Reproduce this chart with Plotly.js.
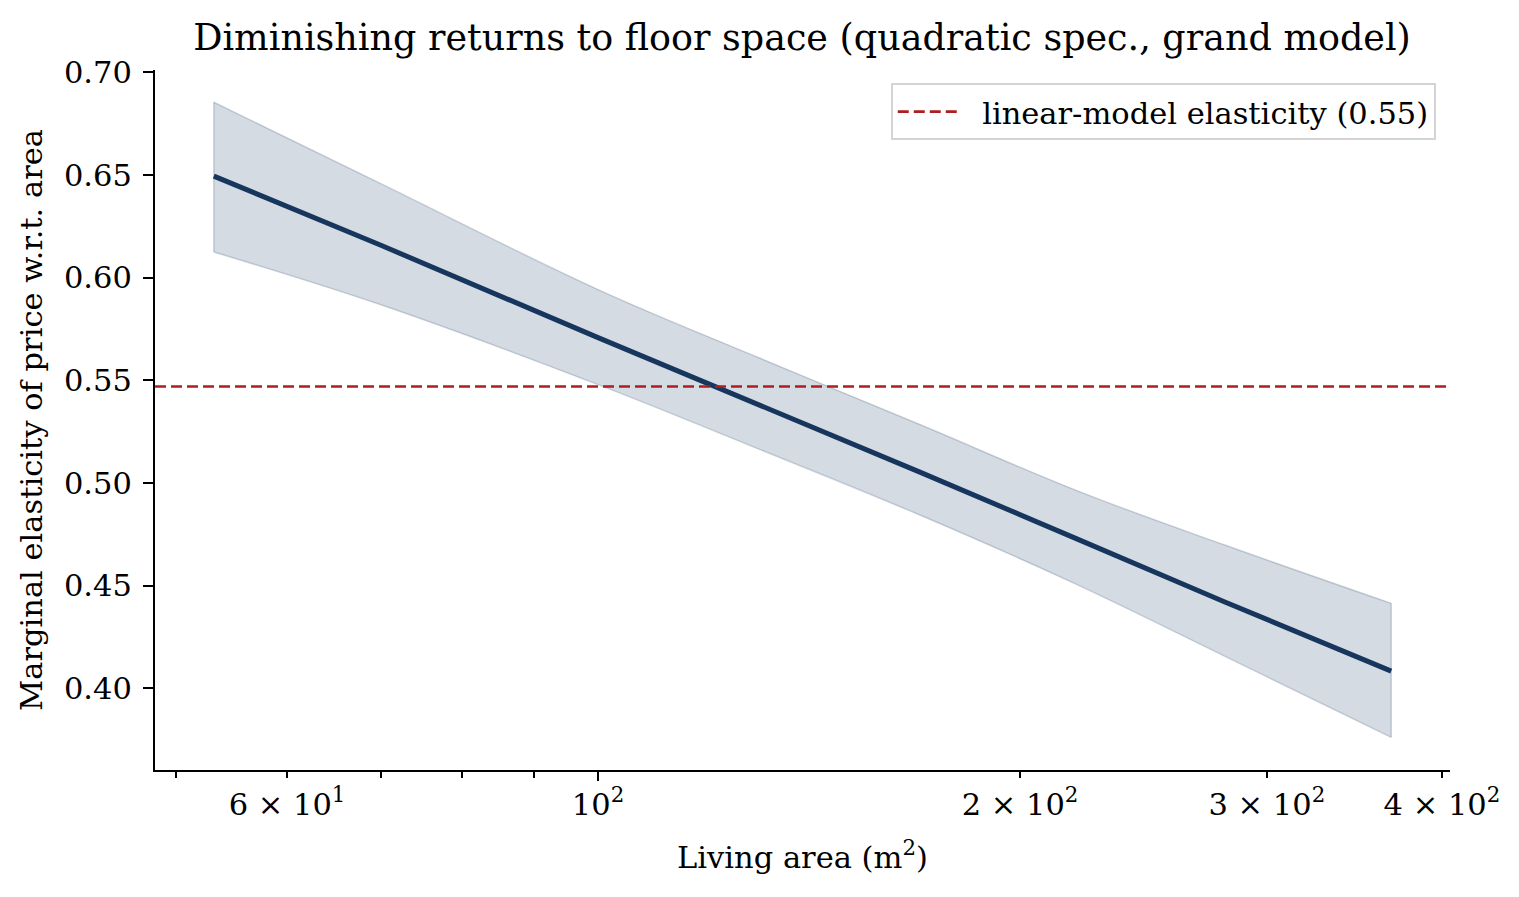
<!DOCTYPE html>
<html>
<head>
<meta charset="utf-8">
<script src="https://cdn.plot.ly/plotly-3.0.1.min.js"></script>
<style>
  html, body { margin: 0; padding: 0; background: #fff; }
  #chart { width: 1519px; height: 897px; }
</style>
</head>
<body>
<div id="chart"></div>
<script>
// living area grid (m2) and marginal elasticity
var areaM2 = [53.2, 70, 100, 130, 170, 220, 280, 368];
var elasticity = [0.6495, 0.6158, 0.5708, 0.5385, 0.5050, 0.4725, 0.4420, 0.4083];
var ciUpper = [0.6855, 0.6458, 0.5942, 0.5612, 0.5282, 0.4960, 0.4697, 0.4413];
var ciLower = [0.6125, 0.5868, 0.5479, 0.5167, 0.4841, 0.4502, 0.4155, 0.3760];
var linearElasticity = 0.547;

var xTickVals = [60, 100, 200, 300, 400];
var xTickText = ['6 × 10<sup>1</sup>', '10<sup>2</sup>', '2 × 10<sup>2</sup>', '3 × 10<sup>2</sup>', '4 × 10<sup>2</sup>'];
var xMinorVals = [50, 70, 80, 90];
var yTickVals = [0.40, 0.45, 0.50, 0.55, 0.60, 0.65, 0.70];

var navy = 'rgb(23, 54, 93)';
var red = 'rgb(175, 30, 30)';
var serif = 'DejaVu Serif, Liberation Serif, serif';
var fs = 30.5;

// confidence band: upper edge, then lower edge filled up to it
var bandUpper = {
  x: areaM2,
  y: ciUpper,
  type: 'scatter',
  mode: 'lines',
  line: {color: 'rgba(23, 54, 93, 0.2)', width: 1.5, shape: 'spline', smoothing: 1},
  showlegend: false,
  hoverinfo: 'skip'
};
var bandLower = {
  x: areaM2,
  y: ciLower,
  type: 'scatter',
  mode: 'lines',
  fill: 'tonexty',
  fillcolor: 'rgba(23, 54, 93, 0.18)',
  line: {color: 'rgba(23, 54, 93, 0.2)', width: 1.5, shape: 'spline', smoothing: 1},
  showlegend: false,
  hoverinfo: 'skip'
};
// closing edges of the band at the first and last grid point
var last = areaM2.length - 1;
var bandEnds = {
  x: [areaM2[0], areaM2[0], null, areaM2[last], areaM2[last]],
  y: [ciUpper[0], ciLower[0], null, ciUpper[last], ciLower[last]],
  type: 'scatter',
  mode: 'lines',
  line: {color: 'rgba(23, 54, 93, 0.2)', width: 1.5},
  showlegend: false,
  hoverinfo: 'skip'
};

var curve = {
  x: areaM2,
  y: elasticity,
  type: 'scatter',
  mode: 'lines',
  line: {color: navy, width: 5},
  showlegend: false
};

var layout = {
  width: 1519,
  height: 897,
  margin: {l: 155, r: 69, t: 70, b: 127},
  paper_bgcolor: '#fff',
  plot_bgcolor: '#fff',
  font: {family: serif, size: fs, color: '#000'},
  title: {
    text: 'Diminishing returns to floor space (quadratic spec., grand model)',
    font: {family: serif, size: 36.5, color: '#000'},
    x: 0.528, xanchor: 'center',
    y: 0.958, yanchor: 'middle'
  },
  xaxis: {
    type: 'log',
    range: [Math.log10(48.3), Math.log10(405.3)],
    tickmode: 'array',
    tickvals: xTickVals,
    ticktext: xTickText,
    ticks: 'outside',
    ticklen: 6,
    tickwidth: 2,
    tickcolor: '#000',
    minor: {tickmode: 'array', tickvals: xMinorVals, ticks: 'outside', ticklen: 6, tickwidth: 1.6, tickcolor: '#000', showgrid: false},
    showline: true,
    linecolor: '#000',
    linewidth: 2,
    showgrid: false,
    zeroline: false,
    tickfont: {family: serif, size: fs},
    title: {text: 'Living area (m<sup>2</sup>)', font: {family: serif, size: fs}, standoff: 26}
  },
  xaxis2: {
    type: 'log',
    overlaying: 'x',
    anchor: 'y',
    range: [Math.log10(48.3), Math.log10(405.3)],
    tickmode: 'array',
    tickvals: [100],
    ticks: 'outside',
    ticklen: 10,
    tickwidth: 2,
    tickcolor: '#000',
    showticklabels: false,
    showline: false,
    showgrid: false,
    zeroline: false
  },
  yaxis: {
    range: [0.3601, 0.7012],
    tickmode: 'array',
    tickvals: yTickVals,
    tickformat: '.2f',
    ticks: 'outside',
    ticklen: 10,
    tickwidth: 2,
    tickcolor: '#000',
    showline: true,
    linecolor: '#000',
    linewidth: 2,
    showgrid: false,
    zeroline: false,
    tickfont: {family: serif, size: fs},
    ticklabelstandoff: 5,
    title: {text: 'Marginal elasticity of price w.r.t. area', font: {family: serif, size: fs}, standoff: 12}
  },
  shapes: [{
    type: 'line',
    xref: 'paper', x0: 0, x1: 1,
    yref: 'y', y0: linearElasticity, y1: linearElasticity,
    line: {color: red, width: 2.6, dash: '11px,5px'},
    showlegend: true,
    name: '\u00a0\u00a0linear-model elasticity (0.55)'
  }],
  legend: {
    x: 0.989, xanchor: 'right',
    y: 0.981, yanchor: 'top',
    bgcolor: 'rgba(255,255,255,0.8)',
    bordercolor: '#d4d4d4',
    borderwidth: 2,
    itemwidth: 60,
    font: {family: serif, size: fs}
  },
  showlegend: true
};

var ghost = {x: [100], y: [null], xaxis: 'x2', yaxis: 'y', type: 'scatter', mode: 'lines', showlegend: false, hoverinfo: 'skip'};

Plotly.newPlot('chart', [bandUpper, bandLower, bandEnds, curve, ghost], layout, {displayModeBar: false, staticPlot: true});
</script>
</body>
</html>
